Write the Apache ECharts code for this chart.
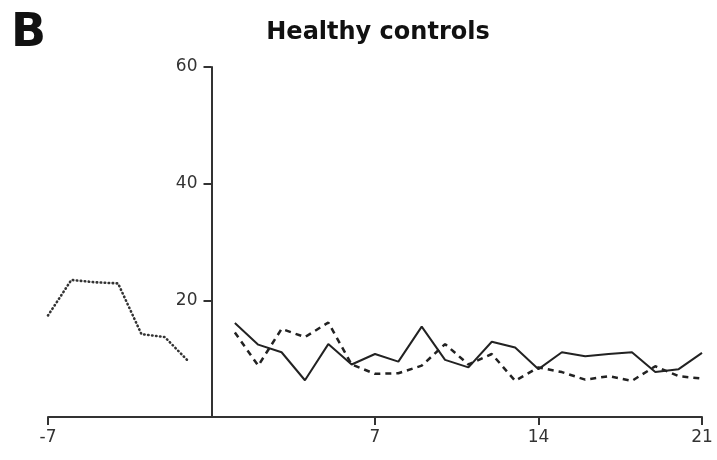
<!DOCTYPE html>
<html>
<head>
<meta charset="utf-8">
<script src="https://cdn.jsdelivr.net/npm/echarts@6/dist/echarts.min.js"></script>
<style>html,body{margin:0;padding:0;background:#fff}#c{width:717px;height:460px}</style>
</head>
<body>
<div id="c"></div>
<script>
// Days before baseline (dotted)
const preDays = [-7, -6, -5, -4, -3, -2, -1];
const preValues = [17.4, 23.5, 23.1, 22.9, 14.2, 13.7, 9.6];
// Days after (solid and dashed)
const postDays = [1,2,3,4,5,6,7,8,9,10,11,12,13,14,15,16,17,18,19,20,21];
const solidValues = [16.1, 12.4, 11.1, 6.3, 12.5, 9.0, 10.8, 9.5, 15.5, 9.8, 8.5, 12.9, 11.9, 8.2, 11.1, 10.4, 10.8, 11.1, 7.7, 8.2, 11.0];
const dashedValues = [14.5, 8.8, 15.1, 13.7, 16.2, 9.0, 7.4, 7.5, 8.8, 12.5, 9.0, 10.8, 6.2, 8.5, 7.7, 6.4, 7.0, 6.2, 8.7, 7.0, 6.6];
const xTicks = [-7, 7, 14, 21];
const yTicks = [20, 40, 60];
const panelLabel = 'B';
const titleText = 'Healthy controls';

const zip = (xs, ys) => xs.map((x, i) => [x, ys[i]]);
const axisColor = '#333';
const fontFam = 'DejaVu Sans';
const gridLeft = 48, gridRight = 15, W = 717;
const xMin = -7, xMax = 21;
// shift the y axis so it sits at x = 0
const yOffset = -((0 - xMin) / (xMax - xMin)) * (W - gridLeft - gridRight);

const chart = echarts.init(document.getElementById('c'), null, {renderer: 'canvas'});
chart.setOption({
  animation: false,
  backgroundColor: '#fff',
  graphic: [
    {type: 'text', left: 11, top: 11, style: {text: panelLabel, font: 'bold 46px "DejaVu Sans"', fill: '#111'}},
    {type: 'text', x: 378, y: 21, style: {text: titleText, font: 'bold 24px "DejaVu Sans"', fill: '#111', textAlign: 'center', textVerticalAlign: 'top'}}
  ],
  grid: {left: gridLeft, right: gridRight, top: 67, bottom: 43, containLabel: false},
  xAxis: {
    type: 'value', min: xMin, max: xMax, interval: 7,
    splitLine: {show: false},
    axisLine: {onZero: false, lineStyle: {color: axisColor, width: 2}},
    axisTick: {show: true, length: 8, inside: false, customValues: xTicks, lineStyle: {color: axisColor, width: 2}},
    axisLabel: {customValues: xTicks, color: '#333', fontSize: 17, fontFamily: fontFam, margin: 12}
  },
  yAxis: {
    type: 'value', min: 0, max: 60, interval: 20, position: 'left', offset: yOffset,
    splitLine: {show: false},
    axisLine: {show: true, onZero: false, lineStyle: {color: axisColor, width: 2}},
    axisTick: {show: true, length: 8, customValues: yTicks, lineStyle: {color: axisColor, width: 2}},
    axisLabel: {customValues: yTicks, color: '#333', fontSize: 17, fontFamily: fontFam, margin: 14}
  },
  series: [
    {type: 'line', data: zip(preDays, preValues), showSymbol: false, symbol: 'none',
     lineStyle: {color: '#333', width: 2.6, type: [0.5, 3.5], cap: 'round'}},
    {type: 'line', data: zip(postDays, dashedValues), showSymbol: false, symbol: 'none',
     lineStyle: {color: '#222', width: 2.5, type: [6, 5]}},
    {type: 'line', data: zip(postDays, solidValues), showSymbol: false, symbol: 'none',
     lineStyle: {color: '#222', width: 2}}
  ]
});
</script>
</body>
</html>
